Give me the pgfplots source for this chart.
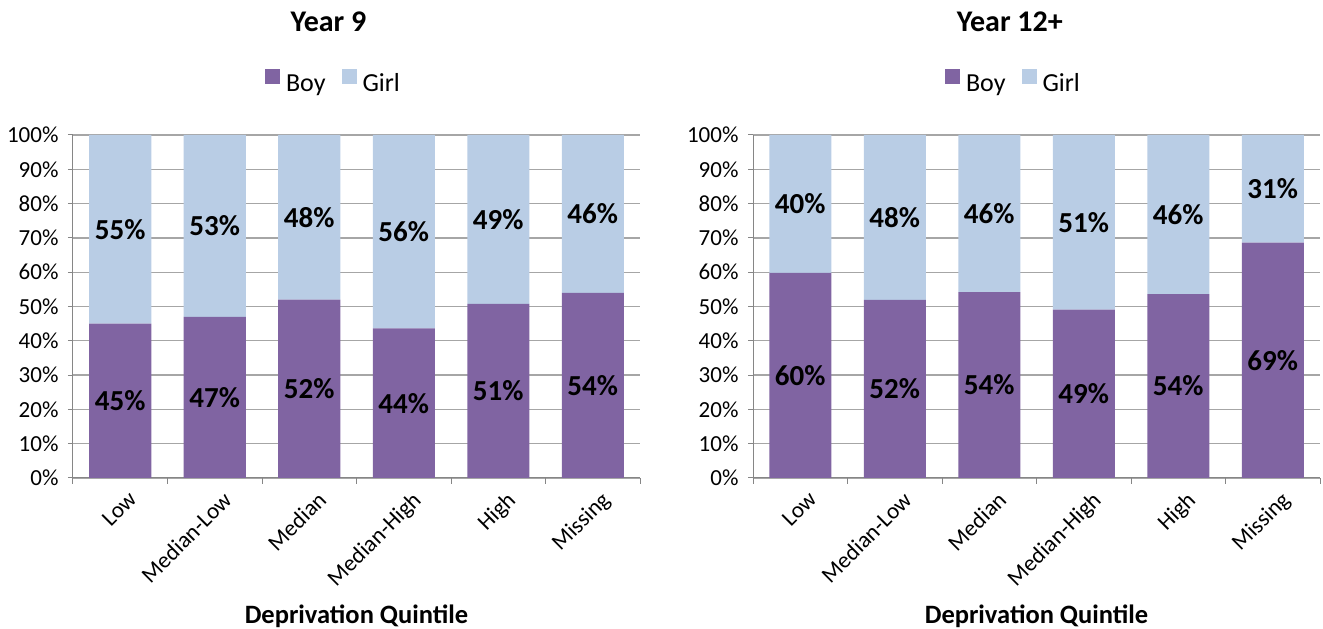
\documentclass[border=0pt]{standalone}
\usepackage{pgfplots}
\pgfplotsset{compat=1.18}
\usepackage{pgfplotstable}
\usepackage{fontspec}
\setmainfont{Carlito}

\definecolor{boy}{HTML}{8064A2}
\definecolor{girl}{HTML}{B9CDE5}
\definecolor{axisgray}{HTML}{868686}
\definecolor{gridgray}{HTML}{A6A6A6}

% share of boys and girls (%) per deprivation quintile
\pgfplotstableread{
x boy girl
0 45.0 55.0
1 47.0 53.0
2 52.0 48.0
3 43.6 56.4
4 50.8 49.2
5 54.0 46.0
}\yearnine
\pgfplotstableread{
x boy girl
0 59.8 40.2
1 51.9 48.1
2 54.2 45.8
3 49.1 50.9
4 53.6 46.4
5 68.6 31.4
}\yeartwelve

\newcommand{\tickfont}{\fontsize{23}{27}\selectfont}
\newcommand{\valfont}{\fontsize{29}{34}\selectfont\bfseries}
\newcommand{\legfont}{\fontsize{26}{30}\selectfont}
\newcommand{\titlefont}{\fontsize{30}{35}\selectfont\bfseries}
\newcommand{\labfont}{\fontsize{26.5}{31}\selectfont\bfseries}

\pgfplotsset{
  panel/.style={
    anchor=south west, scale only axis,
    width=567pt, height=343pt,
    xmin=-0.5, xmax=5.5, ymin=0, ymax=100,
  },
  bars/.style={
    panel, ybar stacked, bar width=62pt,
    axis x line*=bottom, axis y line*=left,
    axis line style={-, draw=axisgray, line width=1pt},
    /pgf/number format/assume math mode=true,
    ytick={0,10,...,100},
    yticklabel={\pgfmathprintnumber{\tick}\%},
    yticklabel style={font=\tickfont, xshift=-6pt},
    ymajorgrids, grid style={gridgray, line width=1.3pt},
    xtick={0,...,5},
    xticklabels={Low,Median-Low,Median,Median-High,High,Missing},
    xticklabel style={font=\tickfont, rotate=45, anchor=north east, inner sep=2pt, yshift=-8pt, xshift=2pt},
    minor xtick={-0.5,0.5,...,5.5},
    tick align=outside,
    major tick length=5pt, minor tick length=6pt,
    major x tick style={draw=none},
    tick style={axisgray, line width=1pt},
    xlabel={Deprivation Quintile},
    xlabel style={font=\labfont, at={(0.5,-0.402)}, anchor=center},
    title style={font=\titlefont, anchor=center},
    legend columns=2,
    legend style={at={(0.4594,1.1545)}, anchor=center, draw=none, fill=none,
      font=\legfont,
      /tikz/every odd column/.append style={column sep=4pt},
      /tikz/every even column/.append style={column sep=14pt}},
    legend image code/.code={\fill[##1] (0pt,0pt) rectangle (15pt,15pt);},
  },
  labels/.style={
    panel, hide axis, clip=false,
    /pgf/number format/assume math mode=true,
    nodes near coords={\pgfmathprintnumber[fixed,precision=0]{\pgfplotspointmeta}\%},
    every node near coord/.append style={anchor=center, font=\valfont, text=black},
  },
}

\begin{document}
\begin{tikzpicture}
\useasboundingbox (0,0) rectangle (1323pt,629pt);

% Year 9
\begin{axis}[bars, at={(73pt,151pt)}, title={Year 9},
  title style={at={(0.4506,1.314)}}]
  \addplot[fill=boy, draw=none] table[x=x, y=boy] {\yearnine};
  \addplot[fill=girl, draw=none] table[x=x, y=girl] {\yearnine};
  \legend{Boy,Girl}
\end{axis}
\begin{axis}[labels, at={(73pt,151pt)}]
  \addplot[draw=none, point meta=\thisrow{boy}] table[x=x, y expr=\thisrow{boy}/2] {\yearnine};
  \addplot[draw=none, point meta=\thisrow{girl}] table[x=x, y expr=\thisrow{boy}+\thisrow{girl}/2] {\yearnine};
\end{axis}

% Year 12+
\begin{axis}[bars, at={(753pt,151pt)}, title={Year 12+},
  title style={at={(0.453,1.314)}}]
  \addplot[fill=boy, draw=none] table[x=x, y=boy] {\yeartwelve};
  \addplot[fill=girl, draw=none] table[x=x, y=girl] {\yeartwelve};
  \legend{Boy,Girl}
\end{axis}
\begin{axis}[labels, at={(753pt,151pt)}]
  \addplot[draw=none, point meta=\thisrow{boy}] table[x=x, y expr=\thisrow{boy}/2] {\yeartwelve};
  \addplot[draw=none, point meta=\thisrow{girl}] table[x=x, y expr=\thisrow{boy}+\thisrow{girl}/2] {\yeartwelve};
\end{axis}
\end{tikzpicture}
\end{document}
